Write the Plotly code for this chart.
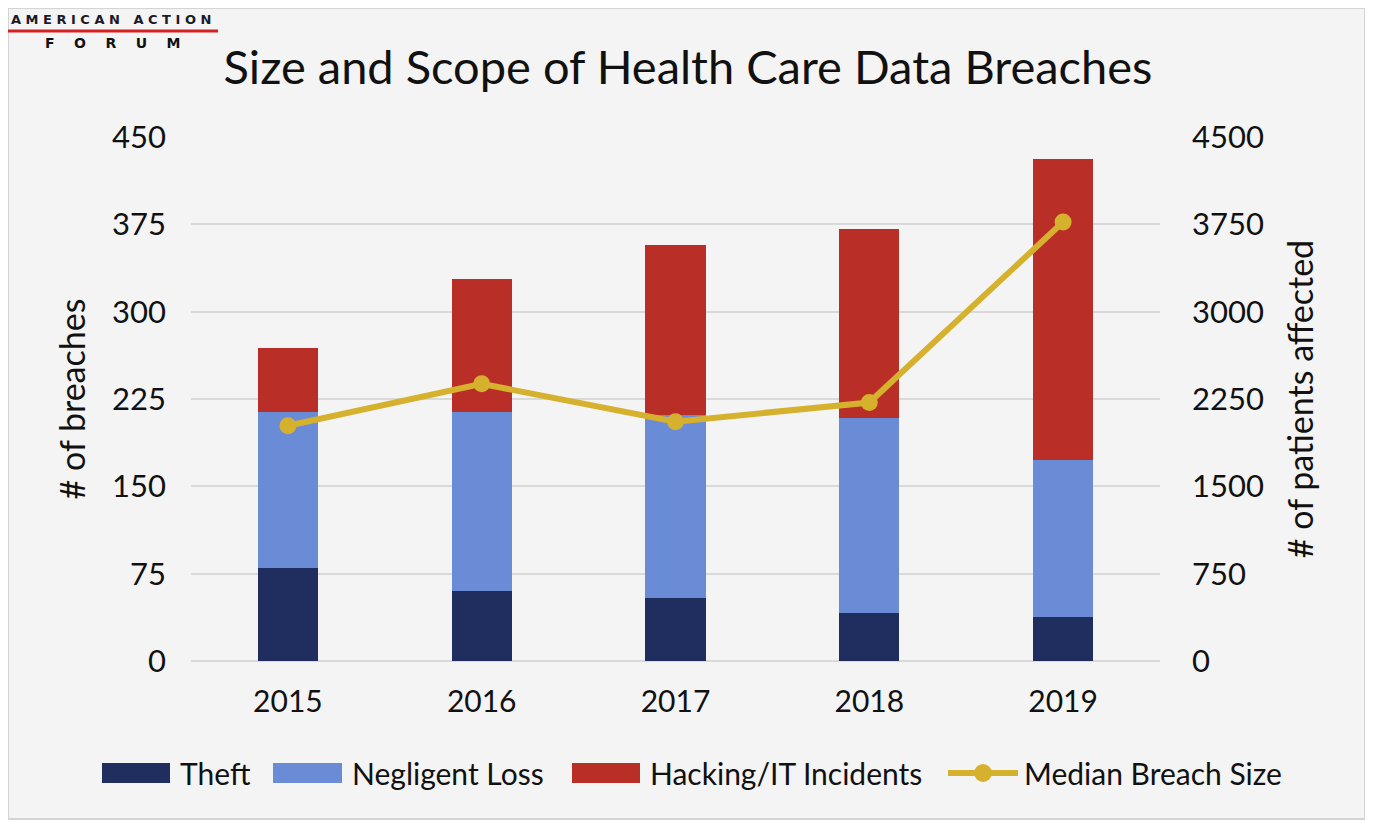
import plotly.graph_objects as go

years = ["2015", "2016", "2017", "2018", "2019"]
theft = [80, 60, 54, 41, 38]
negligent_loss = [134, 154, 157, 168, 135]
hacking = [55, 114, 146, 162, 258]
median_breach_size = [2020, 2380, 2055, 2220, 3770]

series_names = ["Theft", "Negligent Loss", "Hacking/IT Incidents", "Median Breach Size"]
colors = ["#1f2e5e", "#6a8cd6", "#b92f27", "#d6b12d"]

left_ticks = [0, 75, 150, 225, 300, 375, 450]
right_ticks = [0, 750, 1500, 2250, 3000, 3750, 4500]

OFF = 8  # page body margin
W, H = 1365, 813
ML = 191 - OFF
MT = 137 - OFF
MR = W - (1160 - OFF)
MB = H - (661 - OFF)
PW, PH = W - ML - MR, H - MT - MB
FONT = "Lato"


def px_x(x):
    return (x - OFF - ML) / PW


def px_y(y):
    return (H - MB - (y - OFF)) / PH


fig = go.Figure()
for vals, name, col in zip([theft, negligent_loss, hacking], series_names[:3], colors[:3]):
    fig.add_trace(go.Bar(x=years, y=vals, name=name, marker=dict(color=col, line=dict(width=0)),
                         width=0.31, yaxis="y", showlegend=False))
fig.add_trace(go.Scatter(x=years, y=median_breach_size, name=series_names[3], mode="lines+markers",
                         line=dict(color=colors[3], width=6), marker=dict(color=colors[3], size=17),
                         yaxis="y2", showlegend=False))

shapes = []
annotations = []
# frame
shapes.append(dict(type="rect", xref="paper", yref="paper", layer="below",
                   x0=px_x(8), x1=px_x(1365), y0=px_y(819), y1=px_y(8),
                   fillcolor="#f4f4f4", line=dict(color="#d4d4d4", width=2)))

# custom legend
legend_items = [(102, 170, 178), (273, 342, 350), (572, 640, 648), (948, 1018, 1022)]
ly = 773
for i, (sx0, sx1, tx) in enumerate(legend_items):
    if i < 3:
        shapes.append(dict(type="rect", xref="paper", yref="paper",
                           x0=px_x(sx0), x1=px_x(sx1), y0=px_y(ly + 10), y1=px_y(ly - 10),
                           fillcolor=colors[i], line=dict(width=0)))
    else:
        shapes.append(dict(type="line", xref="paper", yref="paper",
                           x0=px_x(sx0), x1=px_x(sx1), y0=px_y(ly), y1=px_y(ly),
                           line=dict(color=colors[i], width=6)))
        cx = (sx0 + sx1) / 2
        shapes.append(dict(type="circle", xref="paper", yref="paper",
                           x0=px_x(cx - 9), x1=px_x(cx + 9), y0=px_y(ly + 9), y1=px_y(ly - 9),
                           fillcolor=colors[i], line=dict(width=0)))
    annotations.append(dict(text=series_names[i], xref="paper", yref="paper", x=px_x(tx), y=px_y(ly),
                            xanchor="left", yanchor="middle", showarrow=False,
                            font=dict(family=FONT, size=30, color="#111111")))

# logo
annotations.append(dict(text="<b>A M E R I C A N   A C T I O N</b>", xref="paper", yref="paper",
                        x=px_x(9), y=px_y(19), xanchor="left", yanchor="middle", showarrow=False,
                        font=dict(family="DejaVu Sans", size=13, color="#1a1a2a")))
shapes.append(dict(type="line", xref="paper", yref="paper", x0=px_x(8), x1=px_x(218),
                   y0=px_y(31), y1=px_y(31), line=dict(color="#d62020", width=3)))
annotations.append(dict(text="<b>F    O    R    U    M</b>", xref="paper", yref="paper",
                        x=px_x(113), y=px_y(43), xanchor="center", yanchor="middle", showarrow=False,
                        font=dict(family="DejaVu Sans", size=14, color="#111111")))

fig.update_layout(
    width=W, height=H,
    margin=dict(l=ML, r=MR, t=MT, b=MB, autoexpand=False),
    paper_bgcolor="white", plot_bgcolor="rgba(0,0,0,0)",
    barmode="stack", bargap=0.69,
    showlegend=False,
    title=dict(text="Size and Scope of Health Care Data Breaches", x=px_x(688), xanchor="center",
               xref="paper", y=1 - (68 - OFF) / H, yanchor="middle",
               font=dict(family=FONT, size=47, color="#111111")),
    font=dict(family=FONT, color="#111111"),
    xaxis=dict(tickfont=dict(size=30), showgrid=False, showline=False, ticks="",
               ticklabelstandoff=20),
    yaxis=dict(range=[0, 450], tickvals=left_ticks, tickfont=dict(size=31),
               showgrid=True, gridcolor="#d9d9d9", gridwidth=2, zeroline=True,
               zerolinecolor="#d9d9d9", zerolinewidth=2, showline=False, ticks="",
               ticklabelstandoff=24,
               title=dict(text="# of breaches", font=dict(size=34), standoff=16)),
    yaxis2=dict(range=[0, 4500], tickvals=right_ticks, overlaying="y", side="right",
                tickfont=dict(size=31), showgrid=False, zeroline=False, showline=False, ticks="",
                ticklabelstandoff=31,
                title=dict(text="# of patients affected", font=dict(size=34), standoff=26)),
    shapes=shapes,
    annotations=annotations,
)

fig.write_html("out.html")
